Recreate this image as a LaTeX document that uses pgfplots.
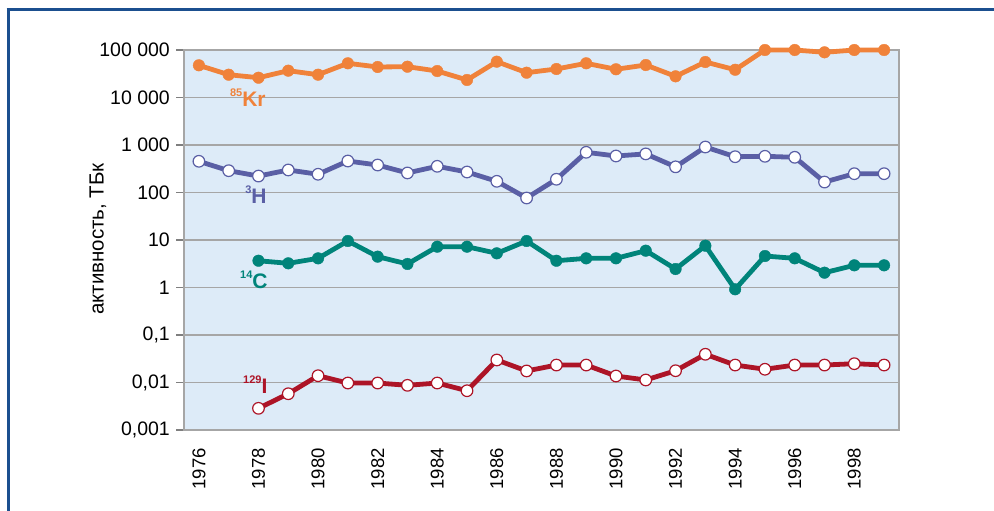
\documentclass[border=0pt]{standalone}
\usepackage{fontspec}
\setmainfont{Liberation Sans}
\usepackage{pgfplots}
\pgfplotsset{compat=1.18}
\definecolor{kr}{HTML}{F0823A}
\definecolor{hh}{HTML}{5A5FA5}
\definecolor{cc}{HTML}{00847A}
\definecolor{ii}{HTML}{AD1427}
\definecolor{bgblue}{HTML}{DDEBF8}
\definecolor{gridgray}{HTML}{A6A6A6}
\definecolor{tickgray}{HTML}{7F7F7F}
\definecolor{frame}{HTML}{1B4F8F}
\begin{document}
\begin{tikzpicture}
\useasboundingbox (0,0) rectangle (994bp,511bp);
\fill[white] (-6bp,-6bp) rectangle (1000bp,517bp);
\draw[frame, line width=3bp] (8bp,-6bp) -- (8bp,501bp);
\draw[frame, line width=3bp] (6.5bp,501bp) -- (1000bp,501bp);
\begin{axis}[
  at={(184bp,81bp)}, anchor=south west,
  width=715bp, height=380bp, scale only axis,
  ymode=log, xmin=1975.5, xmax=1999.5, ymin=1e-3, ymax=1e5,
  clip=false,
  axis background/.style={fill=bgblue},
  axis line style={draw=gridgray, line width=1.5bp},
  font=\fontsize{19.5bp}{21bp}\selectfont,
  xtick={1976,1978,...,1998},
  xticklabels={1976,1978,1980,1982,1984,1986,1988,1990,1992,1994,1996,1998},
  minor xtick={1975.5,1976.5,...,1999.5},
  major tick length=8bp,
  minor tick length=10bp,
  xtick pos=bottom, ytick pos=left,
  tick align=outside,
  xtick style={draw=none},
  minor tick style={draw=tickgray, line width=1.5bp},
  xticklabel style={rotate=90, anchor=east, inner sep=0pt, font=\fontsize{18.5bp}{20bp}\selectfont},
  xticklabel shift=10bp,
  ytick={1e-3,1e-2,1e-1,1,10,100,1000,10000,100000},
  yticklabels={{0,001},{0,01},{0,1},1,10,100,{1 000},{10 000},{100 000}},
  ytick style={draw=tickgray, line width=1.5bp},
  yticklabel style={anchor=east, inner sep=0pt},
  yticklabel shift=6bp,
  ymajorgrids,
  major grid style={draw=gridgray, line width=1.5bp},
  yminorticks=false,
]
\addplot[kr, line width=4.8bp, mark=*, mark size=5.8bp, mark options={fill=kr, draw=kr, line width=0.4bp}] coordinates {
(1976,47600)(1977,30200)(1978,26100)(1979,36700)(1980,30200)(1981,52500)(1982,43900)(1983,44500)(1984,36100)(1985,23400)(1986,56800)(1987,33300)(1988,39800)(1989,52500)(1990,39300)(1991,48300)(1992,27900)(1993,55900)(1994,38400)(1995,100000)(1996,100000)(1997,89400)(1998,100000)(1999,100000)};
\addplot[hh, line width=4.8bp, mark=*, mark size=5.8bp, mark options={fill=white, draw=hh, line width=1.2bp}] coordinates {
(1976,454)(1977,288)(1978,222)(1979,298)(1980,242)(1981,460)(1982,379)(1983,258)(1984,356)(1985,270)(1986,172)(1987,76.6)(1988,190)(1989,702)(1990,587)(1991,650)(1992,347)(1993,907)(1994,567)(1995,578)(1996,551)(1997,166)(1998,249)(1999,249)};
\addplot[cc, line width=4.8bp, mark=*, mark size=5.8bp, mark options={fill=cc, draw=cc, line width=0.4bp}] coordinates {
(1978,3.66)(1979,3.23)(1980,4.11)(1981,9.53)(1982,4.46)(1983,3.13)(1984,7.23)(1985,7.23)(1986,5.24)(1987,9.53)(1988,3.66)(1989,4.11)(1990,4.11)(1991,5.96)(1992,2.45)(1993,7.58)(1994,0.917)(1995,4.6)(1996,4.11)(1997,2.05)(1998,2.93)(1999,2.93)};
\addplot[ii, line width=4.8bp, mark=*, mark size=5.8bp, mark options={fill=white, draw=ii, line width=1.2bp}] coordinates {
(1978,0.00286)(1979,0.0058)(1980,0.0139)(1981,0.00975)(1982,0.00975)(1983,0.00872)(1984,0.00975)(1985,0.00671)(1986,0.0298)(1987,0.0175)(1988,0.0233)(1989,0.0233)(1990,0.0137)(1991,0.0113)(1992,0.0177)(1993,0.0393)(1994,0.0233)(1995,0.019)(1996,0.0233)(1997,0.0233)(1998,0.0249)(1999,0.0233)};
\node[anchor=base west, inner sep=0pt, text=kr, font=\bfseries] at (axis cs:1977.04,6310) {\raisebox{10bp}{\fontsize{11bp}{11bp}\selectfont 85}\fontsize{21bp}{21bp}\selectfont Kr};
\node[anchor=base west, inner sep=0pt, text=hh, font=\bfseries] at (axis cs:1977.55,60) {\raisebox{10bp}{\fontsize{11bp}{11bp}\selectfont 3}\fontsize{21bp}{21bp}\selectfont H};
\node[anchor=base west, inner sep=0pt, text=cc, font=\bfseries] at (axis cs:1977.38,0.93) {\raisebox{10bp}{\fontsize{11bp}{11bp}\selectfont 14}\fontsize{21bp}{21bp}\selectfont C};
\node[anchor=base west, inner sep=0pt, text=ii, font=\bfseries] at (axis cs:1977.48,0.006) {\raisebox{10bp}{\fontsize{11bp}{11bp}\selectfont 129}\fontsize{21bp}{21bp}\selectfont I};
\end{axis}
\node[rotate=90, font=\fontsize{20.5bp}{22bp}\selectfont] at (98bp,272bp) {активность, ТБк};
\end{tikzpicture}
\end{document}
